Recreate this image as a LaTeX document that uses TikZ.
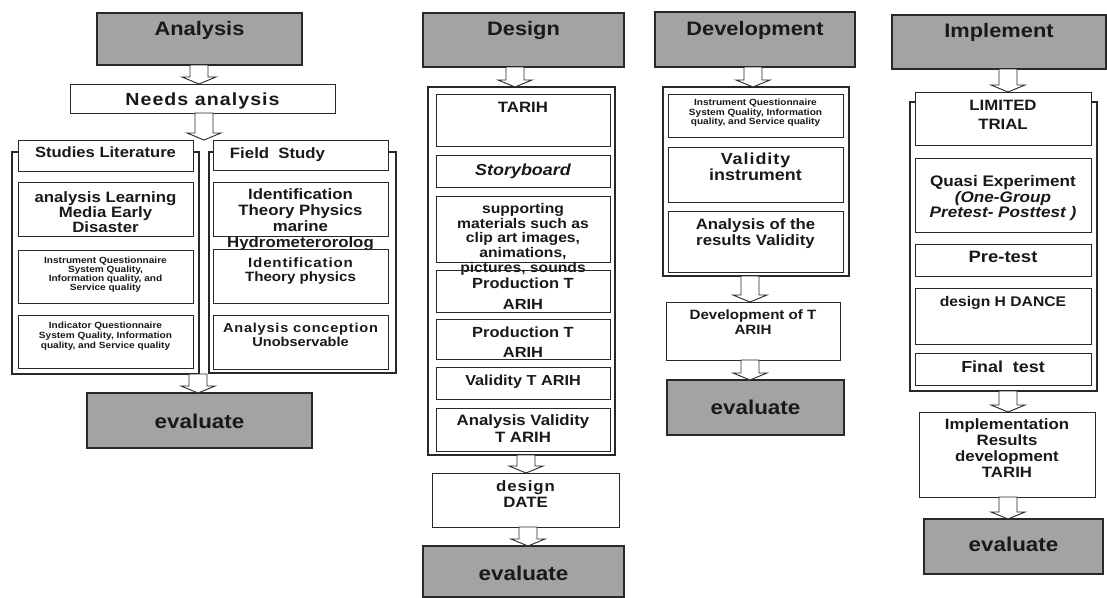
\documentclass[tikz,border=0pt]{standalone}
\usepackage{fontspec}
\setmainfont{Liberation Sans}[FakeStretch=1.12]
\newfontfamily\trk{Liberation Sans}[FakeStretch=1.12,LetterSpace=6]
\usetikzlibrary{calc}
\definecolor{hdrgray}{RGB}{163,163,163}
\definecolor{ink}{RGB}{25,25,25}
\definecolor{edge}{RGB}{40,40,40}
\tikzset{
 box/.style={draw=edge, line width=1pt, inner sep=0pt, outer sep=0pt},
 wbox/.style={box, fill=white},
 gbox/.style={draw=edge, line width=1.3pt, fill=hdrgray, inner sep=0pt, outer sep=0pt},
 frame/.style={draw=edge, line width=1.1pt, inner sep=0pt, outer sep=0pt},
 txt/.style={inner sep=0pt, align=center, text=ink},
 f/.style 2 args={font=\bfseries\fontsize{#1}{#2}\selectfont},
 blockarrow/.style={draw=edge, line width=0.9pt, fill=white, line join=miter},
}
\newcommand\bx[9]{%
 \node[#2, minimum width={#5-#3}, minimum height={#6-#4}, anchor=north west] (#1) at (#3,#4) {};
 \node[txt, #7, anchor=north] (#1-t) at ([yshift=-#8]#1.north) {#9};}
\newcommand\fr[5]{\node[frame, minimum width={#4-#2}, minimum height={#5-#3}, anchor=north west] (#1) at (#2,#3) {};}
\newcommand\barrow[3][0]{%
 \draw[blockarrow] let \p1=(#2), \p2=(#3) in
 ({\x2+(#1)*1pt-9pt},\y1) -- ({\x2+(#1)*1pt-9pt},{\y2+7pt}) -- ({\x2+(#1)*1pt-17pt},{\y2+7pt}) -- ({\x2+(#1)*1pt},\y2) -- ({\x2+(#1)*1pt+17pt},{\y2+7pt}) -- ({\x2+(#1)*1pt+9pt},{\y2+7pt}) -- ({\x2+(#1)*1pt+9pt},\y1) -- cycle;}
\begin{document}
\begin{tikzpicture}[x=1pt,y=-1pt]
\useasboundingbox[fill=white] (0,0) rectangle (1107,597);
% ---------------- Analysis
\bx{ana}{gbox}{97}{13}{302}{65}{f={19.5}{22}}{8}{Analysis}
\bx{needs}{box}{70}{84}{335}{113}{f={17.5}{20}}{9}{\trk Needs analysis}
\coordinate (split) at (204,140);
\fr{lfr}{12}{152}{199}{374}
\fr{rfr}{209}{152}{396}{373}
\bx{stud}{wbox}{18}{140}{193}{171}{f={14.8}{16}}{7}{Studies Literature}
\bx{field}{wbox}{213}{140}{388}{170}{f={15}{16}, xshift=-23}{7}{Field\hspace{0.3em} Study}
\bx{lit1}{box}{18}{182}{193}{236}{f={15}{15}}{9}{analysis Learning\\Media Early\\Disaster}
\bx{lit2}{box}{18}{250}{193}{303}{f={9}{8.3}}{7}{Instrument Questionnaire\\System Quality,\\Information quality, and\\Service quality}
\bx{lit3}{box}{18}{315}{193}{368}{f={9}{10}}{7}{Indicator Questionnaire\\System Quality, Information\\quality, and Service quality}
\bx{fs1}{box}{213}{182}{388}{236}{f={15}{16}}{6.5}{Identification\\Theory Physics\\marine\\Hydrometerorolog}
\bx{fs2}{box}{213}{249}{388}{303}{f={13.5}{14}}{9}{\trk Identification\\Theory physics}
\bx{fs3}{box}{213}{315}{388}{369}{f={13}{14}}{7.5}{\trk Analysis conception\\Unobservable}
\bx{ev1}{gbox}{87}{393}{312}{448}{f={20}{24}}{21}{evaluate}
% ---------------- Design
\bx{des}{gbox}{423}{13}{624}{67}{f={19.5}{22}}{8}{Design}
\fr{dfr}{428}{87}{615}{455}
\bx{d1}{box}{436}{94}{610}{146}{f={15}{16}}{7.5}{TARIH}
\bx{d2}{box}{436}{155}{610}{187}{f={16}{16}}{9}{\itshape Storyboard}
\bx{d3}{box}{436}{196}{610}{262}{f={14}{14.7}}{7}{supporting\\materials such as\\clip art images,\\animations,\\pictures, sounds}
\bx{d4}{box}{436}{270}{610}{312}{f={14.7}{21}}{7.7}{Production T\\ARIH}
\bx{d5}{box}{436}{319}{610}{359}{f={14.7}{20}}{7.7}{Production T\\ARIH}
\bx{d6}{box}{436}{367}{610}{399}{f={14.5}{16}}{8}{Validity T ARIH}
\bx{d7}{box}{436}{408}{610}{451}{f={15}{17}}{6.6}{Analysis Validity\\T ARIH}
\bx{date}{box}{432}{473}{619}{527}{f={15}{16}}{7.5}{\trk design\\DATE}
\bx{ev2}{gbox}{423}{546}{624}{597}{f={20}{24}}{20}{evaluate}
% ---------------- Development
\bx{dev}{gbox}{655}{12}{855}{67}{f={19.5}{22}}{9}{Development}
\fr{vfr}{663}{87}{849}{276}
\bx{v1}{box}{668}{94}{843}{137}{f={9}{8}}{5}{Instrument Questionnaire\\System Quality, Information\\quality, and Service quality}
\bx{v2}{box}{668}{147}{843}{202}{f={16}{16}}{5.5}{\trk Validity\\instrument}
\bx{v3}{box}{668}{211}{843}{272}{f={15}{16}}{7.6}{Analysis of the\\results Validity}
\bx{devt}{box}{666}{302}{840}{360}{f={13.5}{15}}{8}{Development of T\\ARIH}
\bx{ev3}{gbox}{667}{380}{844}{435}{f={20}{24}}{19.5}{evaluate}
% ---------------- Implement
\bx{imp}{gbox}{892}{15}{1106}{69}{f={19.5}{22}}{8}{Implement}
\fr{ifr}{910}{102}{1097}{391}
\bx{i1}{wbox}{915}{92}{1091}{145}{f={15}{19}}{7.6}{LIMITED\\TRIAL}
\bx{i2}{box}{915}{158}{1091}{232}{f={15.3}{15.5}}{17.5}{Quasi Experiment\\{\itshape (One-Group}\\{\itshape Pretest- Posttest )}}
\bx{i3}{box}{915}{244}{1091}{276}{f={16.5}{18}}{7}{Pre-test}
\bx{i4}{box}{915}{288}{1091}{344}{f={14}{16}}{8}{design H DANCE}
\bx{i5}{box}{915}{353}{1091}{385}{f={16}{18}}{8}{Final\hspace{0.3em} test}
\bx{ires}{box}{919}{412}{1095}{497}{f={15}{16}}{6.6}{Implementation\\Results\\development\\TARIH}
\bx{ev4}{gbox}{924}{519}{1103}{574}{f={20}{24}}{18}{evaluate}
% ---------------- block arrows
\barrow[-3.5]{ana.south}{needs.north}
\barrow{needs.south}{split}
\barrow[-1.5]{lfr.south}{ev1.north}
\barrow[-6.5]{des.south}{dfr.north}
\barrow[0.5]{dfr.south}{date.north}
\barrow[4.5]{date.south}{ev2.north}
\barrow[-3]{dev.south}{vfr.north}
\barrow[-3]{vfr.south}{devt.north}
\barrow[-5.5]{devt.south}{ev3.north}
\barrow[5]{imp.south}{i1.north}
\barrow[1]{ifr.south}{ires.north}
\barrow[-5.5]{ires.south}{ev4.north}
\end{tikzpicture}
\end{document}
